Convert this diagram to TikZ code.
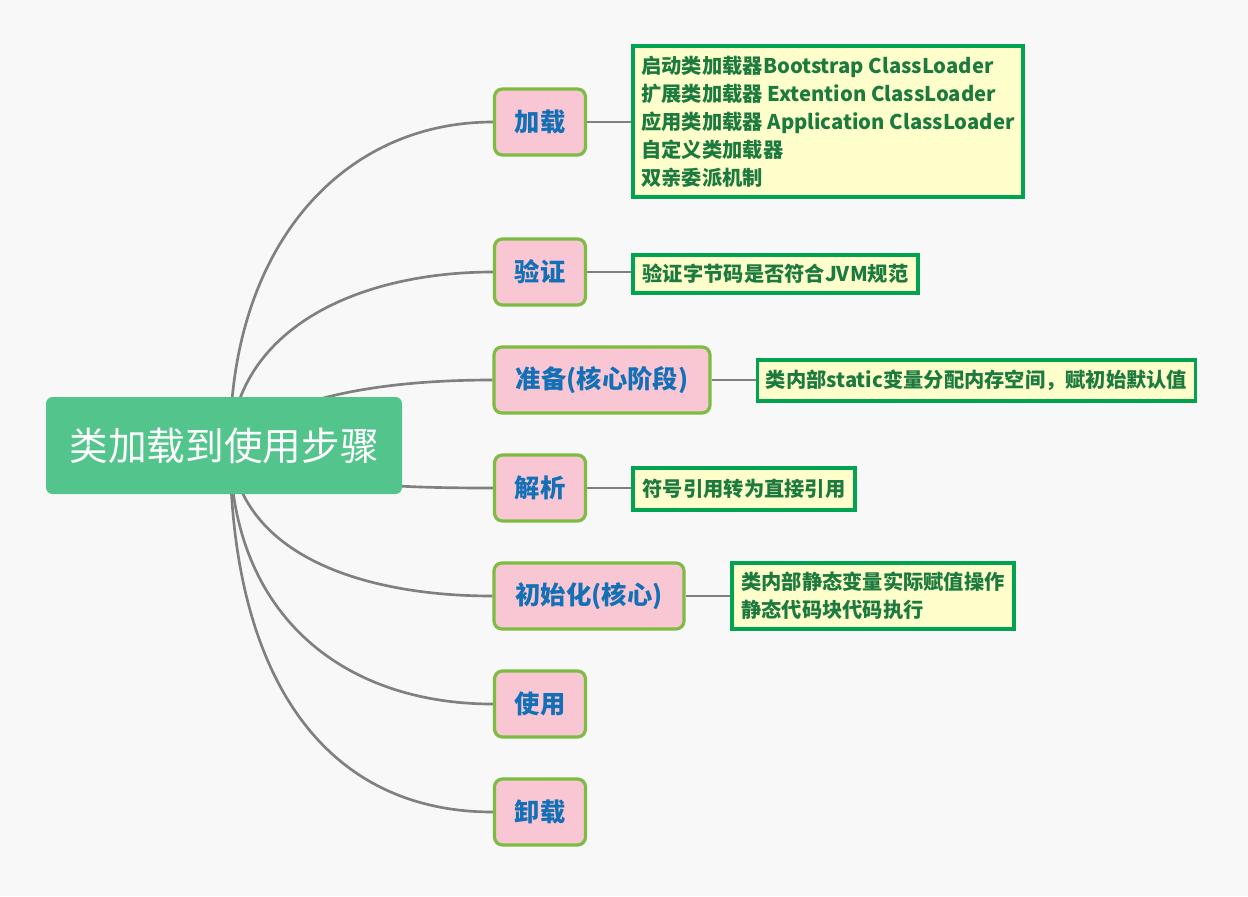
\documentclass[tikz,border=0pt]{standalone}
\usepackage{fontspec}
\usetikzlibrary{backgrounds}
\setmainfont{Noto Sans CJK SC}
\newfontfamily\cjk{Noto Sans CJK SC}
\definecolor{bgc}{RGB}{248,248,248}
\definecolor{rootc}{RGB}{82,196,140}
\definecolor{pinkc}{RGB}{249,199,211}
\definecolor{pinkb}{RGB}{125,188,66}
\definecolor{bluet}{RGB}{20,112,182}
\definecolor{yelc}{RGB}{255,255,204}
\definecolor{yelb}{RGB}{0,164,80}
\definecolor{greent}{RGB}{28,122,62}
\definecolor{linec}{RGB}{128,128,128}
\begin{document}
\begin{tikzpicture}[x=0.75pt,y=-0.75pt,
  rootbox/.style={fill=rootc,rounded corners=5pt,minimum width=356*0.75pt,minimum height=97*0.75pt,inner sep=0pt,text=white,font=\cjk\fontsize{29}{34}\selectfont},
  stagebox/.style={fill=pinkc,draw=pinkb,line width=2.4pt,rounded corners=6pt,minimum height=66*0.75pt,inner sep=0pt,text=bluet,font=\cjk\bfseries\fontsize{19}{22}\selectfont},
  notebox/.style={fill=yelc,draw=yelb,line width=2.4pt,inner xsep=6pt,inner ysep=0pt,align=left,text=greent,font=\cjk\bfseries\fontsize{15.2}{21}\selectfont},
  branch/.style={draw=linec,line width=2pt},
  leaf/.style={draw=linec,line width=1.1pt}]
\begin{scope}[on background layer]
\fill[bgc] (0,0) rectangle (1248,896);
\end{scope}
\useasboundingbox (0,0) rectangle (1248,896);

\coordinate (hub) at (230,445);

% root
\node[rootbox] (root) at (224,445.5) {类加载到使用步骤};

% stage nodes
\node[stagebox,minimum width=91*0.75pt] (s1) at (540,122) {加载};
\node[stagebox,minimum width=91*0.75pt] (s2) at (540,272) {验证};
\node[stagebox,minimum width=216*0.75pt] (s3) at (602,380) {准备(核心阶段)};
\node[stagebox,minimum width=91*0.75pt] (s4) at (540,488) {解析};
\node[stagebox,minimum width=190*0.75pt] (s5) at (589,596) {初始化(核心)};
\node[stagebox,minimum width=91*0.75pt] (s6) at (540,704) {使用};
\node[stagebox,minimum width=91*0.75pt] (s7) at (540,812) {卸载};

% branches (behind nodes)
\begin{scope}[on background layer]
\draw[branch] (hub) .. controls +(0,-200) and +(-150,0) .. (s1.west);
\draw[branch] (hub) .. controls +(8,-120) and +(-130,0) .. (s2.west);
\draw[branch] (hub) .. controls +(45,-45) and +(-120,0) .. (s3.west);
\draw[branch] (hub) .. controls +(60,40) and +(-100,0) .. (s4.west);
\draw[branch] (hub) .. controls +(8,110) and +(-130,0) .. (s5.west);
\draw[branch] (hub) .. controls +(0,170) and +(-150,0) .. (s6.west);
\draw[branch] (hub) .. controls +(0,230) and +(-170,0) .. (s7.west);
\end{scope}

% notes
\node[notebox,minimum width=390*0.75pt,minimum height=151*0.75pt] (n1) at (828,121.5)
  {启动类加载器Bootstrap ClassLoader\\扩展类加载器 Extention ClassLoader\\应用类加载器 Application ClassLoader\\自定义类加载器\\双亲委派机制};
\node[notebox,minimum width=285*0.75pt,minimum height=38*0.75pt] (n2) at (775.5,274) {验证字节码是否符合JVM规范};
\node[notebox,minimum width=437*0.75pt,minimum height=41*0.75pt] (n3) at (976.5,380.5) {类内部static变量分配内存空间，赋初始默认值};
\node[notebox,minimum width=222*0.75pt,minimum height=42*0.75pt] (n4) at (744,489) {符号引用转为直接引用};
\node[notebox,minimum width=282*0.75pt,minimum height=66*0.75pt] (n5) at (873,596) {类内部静态变量实际赋值操作\\静态代码块代码执行};

\begin{scope}[on background layer]
\draw[leaf] (s1.east) -- (s1.east -| n1.west);
\draw[leaf] (s2.east) -- (s2.east -| n2.west);
\draw[leaf] (s3.east) -- (s3.east -| n3.west);
\draw[leaf] (s4.east) -- (s4.east -| n4.west);
\draw[leaf] (s5.east) -- (s5.east -| n5.west);
\end{scope}
\end{tikzpicture}
\end{document}
